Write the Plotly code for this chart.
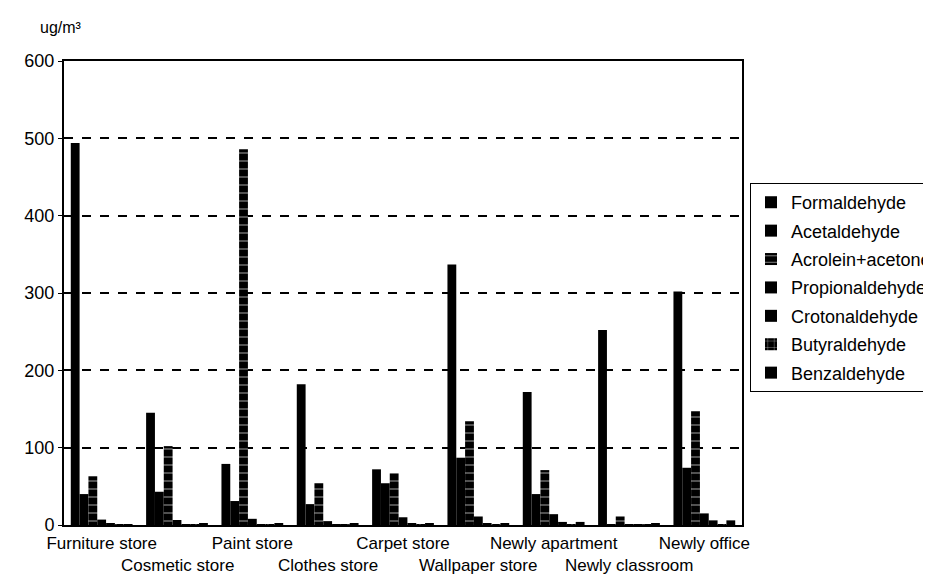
import plotly.graph_objects as go

categories = ["Furniture store", "Cosmetic store", "Paint store", "Clothes store",
              "Carpet store", "Wallpaper store", "Newly apartment", "Newly classroom",
              "Newly office"]

formaldehyde = [494, 145, 79, 182, 72, 337, 172, 252, 302]
acetaldehyde = [40, 43, 31, 27, 54, 87, 40, 0.5, 74]
acrolein_acetone = [63, 102, 486, 54, 67, 134, 71, 11, 147]
propionaldehyde = [7, 6.5, 8, 5, 10, 11, 14, 0.5, 15]
crotonaldehyde = [2, 1, 1, 1, 1.5, 2, 4, 0.5, 6]
butyraldehyde = [1, 1, 1, 1, 1, 1, 1, 0.5, 1]
benzaldehyde = [1, 2, 1.5, 1.5, 2.5, 2.5, 4, 1.5, 6]

series_names = ["Formaldehyde", "Acetaldehyde", "Acrolein+acetone", "Propionaldehyde",
                "Crotonaldehyde", "Butyraldehyde", "Benzaldehyde"]
series_values = [formaldehyde, acetaldehyde, acrolein_acetone, propionaldehyde,
                 crotonaldehyde, butyraldehyde, benzaldehyde]
patterns = ["", "", "-", "", "", "+", ""]

# first row of category labels on the axis, second row as annotations
tick_labels = [c if i % 2 == 0 else "" for i, c in enumerate(categories)]
y_ticks = [0, 100, 200, 300, 400, 500, 600]

FONT = "Liberation Sans, Arial, sans-serif"

fig = go.Figure()
for name, vals, pat in zip(series_names, series_values, patterns):
    marker = dict(color="black", line=dict(width=0))
    if pat:
        marker["pattern"] = dict(shape=pat, fgcolor="white", bgcolor="black",
                                 size=8, solidity=0.08, fillmode="replace")
    fig.add_trace(go.Bar(name=name, x=categories, y=vals, marker=marker,
                         legendgroup=name))

fig.update_layout(
    width=931, height=580,
    margin=dict(l=56, r=197, t=53, b=63, autoexpand=False),
    paper_bgcolor="white", plot_bgcolor="white",
    barmode="group", bargap=0.18, bargroupgap=0,
    font=dict(family=FONT, size=17, color="black"),
    showlegend=True,
    legend=dict(x=1.0118, y=0.737, xanchor="left", yanchor="top",
                bordercolor="black", borderwidth=1, bgcolor="white",
                font=dict(size=18, family=FONT), tracegroupgap=2,
                itemwidth=30),
)
fig.update_xaxes(
    tickmode="array", tickvals=categories, ticktext=tick_labels, tickangle=0,
    automargin=False, ticklabelstandoff=2,
    showline=True, linecolor="black", linewidth=2, mirror=True,
    showgrid=False, ticks="", tickfont=dict(size=17, family=FONT),
)
fig.update_yaxes(
    range=[0, 600], tickvals=y_ticks, ticktext=[str(v) for v in y_ticks],
    automargin=False,
    showline=True, linecolor="black", linewidth=2, mirror=True,
    showgrid=True, gridcolor="black", griddash="dash", gridwidth=1.5,
    ticks="outside", ticklen=4, tickcolor="black",
    tickfont=dict(size=18, family=FONT), zeroline=False,
)
for i, c in enumerate(categories):
    if i % 2 == 1:
        fig.add_annotation(text=c, x=c, xref="x", y=-0.088, yref="paper",
                           xanchor="center", yanchor="middle", showarrow=False,
                           font=dict(size=17, family=FONT))
fig.add_annotation(text="ug/m³", xref="paper", yref="paper", x=-0.038, y=1.05,
                   xanchor="left", yanchor="bottom", showarrow=False,
                   font=dict(size=16, family=FONT))

fig.write_html("out.html")
